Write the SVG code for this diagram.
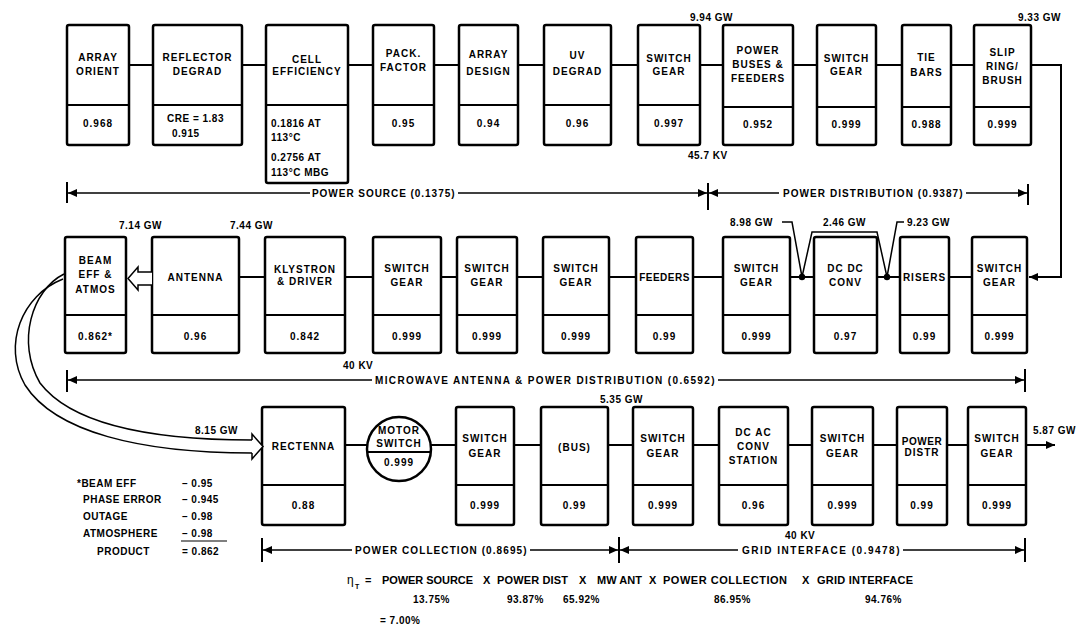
<svg xmlns="http://www.w3.org/2000/svg" width="1083" height="631" viewBox="0 0 1083 631">
<defs>
<style>
.b{fill:#fff;stroke:#000;stroke-width:2.5}
.d{fill:none;stroke:#000;stroke-width:2}
.t{font-family:"Liberation Sans",Arial,sans-serif;font-weight:bold;font-size:10px;letter-spacing:1px;fill:#000;text-anchor:middle}
.s{font-family:"Liberation Sans",Arial,sans-serif;font-weight:bold;font-size:10px;letter-spacing:0.5px;fill:#000;text-anchor:start}
.f{font-family:"Liberation Sans",Arial,sans-serif;font-weight:bold;font-size:11px;fill:#000;text-anchor:start}
.c{fill:none;stroke:#000;stroke-width:2}
.dim{fill:none;stroke:#000;stroke-width:1.5}
.tk{fill:none;stroke:#000;stroke-width:2}
.h{fill:#fff;stroke:#000;stroke-width:1.5}
.beam{fill:none;stroke:#000;stroke-width:1.5}
</style>
<marker id="ah" markerUnits="userSpaceOnUse" markerWidth="9" markerHeight="8" viewBox="0 0 9 8" refX="9" refY="4" orient="auto"><path d="M0,0 L9,4 L0,8 z" fill="#000"/></marker>
</defs>
<rect width="1083" height="631" fill="#fff"/>

<!-- Row 1 -->
<g id="n-array-orient">
<rect class="b" x="67" y="25" width="62" height="120" rx="2"/>
<line class="d" x1="67" y1="105" x2="129" y2="105"/>
<text class="t" x="98" y="61">ARRAY</text><text class="t" x="98" y="75">ORIENT</text>
<text class="t" x="98" y="127">0.968</text>
</g>
<g id="n-reflector">
<rect class="b" x="153" y="25" width="89" height="120" rx="2"/>
<line class="d" x1="153" y1="105" x2="242" y2="105"/>
<text class="t" x="197.5" y="61">REFLECTOR</text><text class="t" x="197.5" y="75">DEGRAD</text>
<text class="s" x="167" y="122">CRE = 1.83</text><text class="s" x="172" y="137">0.915</text>
</g>
<g id="n-cell">
<rect class="b" x="266" y="25" width="82" height="158" rx="2"/>
<line class="d" x1="266" y1="105" x2="348" y2="105"/>
<text class="t" x="307" y="63">CELL</text><text class="t" x="307" y="75">EFFICIENCY</text>
<text class="s" x="271" y="127">0.1816 AT</text><text class="s" x="271" y="141">113°C</text>
<text class="s" x="271" y="161">0.2756 AT</text><text class="s" x="271" y="176">113°C MBG</text>
</g>
<g id="n-pack">
<rect class="b" x="373" y="25" width="61" height="120" rx="2"/>
<line class="d" x1="373" y1="105" x2="434" y2="105"/>
<text class="t" x="403.5" y="57">PACK.</text><text class="t" x="403.5" y="71">FACTOR</text>
<text class="t" x="403.5" y="127">0.95</text>
</g>
<g id="n-array-design">
<rect class="b" x="459" y="25" width="59" height="120" rx="2"/>
<line class="d" x1="459" y1="105" x2="518" y2="105"/>
<text class="t" x="488.5" y="58">ARRAY</text><text class="t" x="488.5" y="75">DESIGN</text>
<text class="t" x="488.5" y="127">0.94</text>
</g>
<g id="n-uv">
<rect class="b" x="544" y="25" width="67" height="120" rx="2"/>
<line class="d" x1="544" y1="105" x2="611" y2="105"/>
<text class="t" x="577.5" y="59">UV</text><text class="t" x="577.5" y="75">DEGRAD</text>
<text class="t" x="577.5" y="127">0.96</text>
</g>
<g id="n-sw1">
<rect class="b" x="638" y="25" width="62" height="120" rx="2"/>
<line class="d" x1="638" y1="105" x2="700" y2="105"/>
<text class="t" x="669" y="62">SWITCH</text><text class="t" x="669" y="75">GEAR</text>
<text class="t" x="669" y="127">0.997</text>
</g>
<g id="n-buses">
<rect class="b" x="723" y="25" width="70" height="120" rx="2"/>
<line class="d" x1="723" y1="107" x2="793" y2="107"/>
<text class="t" x="758" y="54">POWER</text><text class="t" x="758" y="68">BUSES &amp;</text><text class="t" x="758" y="82">FEEDERS</text>
<text class="t" x="758" y="128">0.952</text>
</g>
<g id="n-sw2">
<rect class="b" x="817" y="25" width="59" height="120" rx="2"/>
<line class="d" x1="817" y1="107" x2="876" y2="107"/>
<text class="t" x="846.5" y="62">SWITCH</text><text class="t" x="846.5" y="75">GEAR</text>
<text class="t" x="846.5" y="128">0.999</text>
</g>
<g id="n-tie">
<rect class="b" x="902" y="25" width="49" height="120" rx="2"/>
<line class="d" x1="902" y1="107" x2="951" y2="107"/>
<text class="t" x="926.5" y="61">TIE</text><text class="t" x="926.5" y="76">BARS</text>
<text class="t" x="926.5" y="128">0.988</text>
</g>
<g id="n-slip">
<rect class="b" x="974" y="25" width="57" height="120" rx="2"/>
<line class="d" x1="974" y1="107" x2="1031" y2="107"/>
<text class="t" x="1002.5" y="56">SLIP</text><text class="t" x="1002.5" y="70">RING/</text><text class="t" x="1002.5" y="84">BRUSH</text>
<text class="t" x="1002.5" y="128">0.999</text>
</g>

<!-- Row 2 -->
<g id="n-beam">
<rect class="b" x="65" y="237" width="61" height="116" rx="2"/>
<line class="d" x1="65" y1="315" x2="126" y2="315"/>
<text class="t" x="95.5" y="264">BEAM</text><text class="t" x="95.5" y="278">EFF &amp;</text><text class="t" x="95.5" y="293">ATMOS</text>
<text class="t" x="95.5" y="340">0.862*</text>
</g>
<g id="n-antenna">
<rect class="b" x="152" y="237" width="87" height="116" rx="2"/>
<line class="d" x1="152" y1="315" x2="239" y2="315"/>
<text class="t" x="195.5" y="281">ANTENNA</text>
<text class="t" x="195.5" y="340">0.96</text>
</g>
<g id="n-klystron">
<rect class="b" x="265" y="237" width="80" height="116" rx="2"/>
<line class="d" x1="265" y1="315" x2="345" y2="315"/>
<text class="t" x="305" y="273">KLYSTRON</text><text class="t" x="305" y="285">&amp; DRIVER</text>
<text class="t" x="305" y="340">0.842</text>
</g>
<g id="n-sw3">
<rect class="b" x="373" y="237" width="68" height="116" rx="2"/>
<line class="d" x1="373" y1="315" x2="441" y2="315"/>
<text class="t" x="407" y="272">SWITCH</text><text class="t" x="407" y="286">GEAR</text>
<text class="t" x="407" y="340">0.999</text>
</g>
<g id="n-sw4">
<rect class="b" x="457" y="237" width="60" height="116" rx="2"/>
<line class="d" x1="457" y1="315" x2="517" y2="315"/>
<text class="t" x="487" y="272">SWITCH</text><text class="t" x="487" y="286">GEAR</text>
<text class="t" x="487" y="340">0.999</text>
</g>
<g id="n-sw5">
<rect class="b" x="543" y="237" width="66" height="116" rx="2"/>
<line class="d" x1="543" y1="315" x2="609" y2="315"/>
<text class="t" x="576" y="272">SWITCH</text><text class="t" x="576" y="286">GEAR</text>
<text class="t" x="576" y="340">0.999</text>
</g>
<g id="n-feeders">
<rect class="b" x="636" y="237" width="57" height="116" rx="2"/>
<line class="d" x1="636" y1="315" x2="693" y2="315"/>
<text class="t" x="664.5" y="281" style="letter-spacing:0.5px">FEEDERS</text>
<text class="t" x="664.5" y="340">0.99</text>
</g>
<g id="n-sw6">
<rect class="b" x="723" y="237" width="67" height="116" rx="2"/>
<line class="d" x1="723" y1="315" x2="790" y2="315"/>
<text class="t" x="756.5" y="272">SWITCH</text><text class="t" x="756.5" y="286">GEAR</text>
<text class="t" x="756.5" y="340">0.999</text>
</g>
<g id="n-dcdc">
<rect class="b" x="814" y="237" width="63" height="116" rx="2"/>
<line class="d" x1="814" y1="315" x2="877" y2="315"/>
<text class="t" x="845.5" y="272">DC DC</text><text class="t" x="845.5" y="286">CONV</text>
<text class="t" x="845.5" y="340">0.97</text>
</g>
<g id="n-risers">
<rect class="b" x="900" y="237" width="49" height="116" rx="2"/>
<line class="d" x1="900" y1="315" x2="949" y2="315"/>
<text class="t" x="924.5" y="281">RISERS</text>
<text class="t" x="924.5" y="340">0.99</text>
</g>
<g id="n-sw7">
<rect class="b" x="972" y="237" width="55" height="116" rx="2"/>
<line class="d" x1="972" y1="315" x2="1027" y2="315"/>
<text class="t" x="999.5" y="272">SWITCH</text><text class="t" x="999.5" y="286">GEAR</text>
<text class="t" x="999.5" y="340">0.999</text>
</g>

<!-- Row 3 -->
<g id="n-rectenna">
<rect class="b" x="262" y="407" width="83" height="118" rx="2"/>
<line class="d" x1="262" y1="485" x2="345" y2="485"/>
<text class="t" x="303.5" y="450">RECTENNA</text>
<text class="t" x="303.5" y="509">0.88</text>
</g>
<g id="n-motor">
<circle class="b" cx="399" cy="449" r="32"/>
<line class="d" x1="367.2" y1="452" x2="430.8" y2="452"/>
<text class="t" x="399" y="434">MOTOR</text><text class="t" x="399" y="447">SWITCH</text>
<text class="t" x="399" y="466">0.999</text>
</g>
<g id="n-sw8">
<rect class="b" x="456" y="407" width="58" height="118" rx="2"/>
<line class="d" x1="456" y1="485" x2="514" y2="485"/>
<text class="t" x="485" y="442">SWITCH</text><text class="t" x="485" y="457">GEAR</text>
<text class="t" x="485" y="509">0.999</text>
</g>
<g id="n-bus">
<rect class="b" x="541" y="407" width="67" height="118" rx="2"/>
<line class="d" x1="541" y1="485" x2="608" y2="485"/>
<text class="t" x="574.5" y="451">(BUS)</text>
<text class="t" x="574.5" y="509">0.99</text>
</g>
<g id="n-sw9">
<rect class="b" x="633" y="407" width="60" height="118" rx="2"/>
<line class="d" x1="633" y1="485" x2="693" y2="485"/>
<text class="t" x="663" y="442">SWITCH</text><text class="t" x="663" y="457">GEAR</text>
<text class="t" x="663" y="509">0.999</text>
</g>
<g id="n-dcac">
<rect class="b" x="719" y="407" width="69" height="118" rx="2"/>
<line class="d" x1="719" y1="485" x2="788" y2="485"/>
<text class="t" x="753.5" y="436">DC AC</text><text class="t" x="753.5" y="450">CONV</text><text class="t" x="753.5" y="464">STATION</text>
<text class="t" x="753.5" y="509">0.96</text>
</g>
<g id="n-sw10">
<rect class="b" x="812" y="407" width="61" height="118" rx="2"/>
<line class="d" x1="812" y1="485" x2="873" y2="485"/>
<text class="t" x="842.5" y="442">SWITCH</text><text class="t" x="842.5" y="457">GEAR</text>
<text class="t" x="842.5" y="509">0.999</text>
</g>
<g id="n-pdistr">
<rect class="b" x="897" y="407" width="50" height="118" rx="2"/>
<line class="d" x1="897" y1="485" x2="947" y2="485"/>
<text class="t" x="922" y="445" style="letter-spacing:0.5px">POWER</text><text class="t" x="922" y="456">DISTR</text>
<text class="t" x="922" y="509">0.99</text>
</g>
<g id="n-sw11">
<rect class="b" x="968" y="407" width="58" height="118" rx="2"/>
<line class="d" x1="968" y1="485" x2="1026" y2="485"/>
<text class="t" x="997" y="442">SWITCH</text><text class="t" x="997" y="457">GEAR</text>
<text class="t" x="997" y="509">0.999</text>
</g>

<!-- Connectors -->
<g id="connectors">
<path class="c" d="M129 65H153M242 65H266M348 65H373M434 65H459M518 65H544M611 65H638M700 65H723M793 65H817M876 65H902M951 65H974"/>
<path class="c" d="M1031 65H1061V277H1029" marker-end="url(#ah)"/>
<path class="h" d="M152 272H138V267L128 278.5L138 290V285H152"/>
<path class="c" d="M239 277H265M345 277H373M441 277H457M517 277H543M609 277H636M693 277H723M790 277H814M877 277H900M949 277H972"/>
<circle cx="802" cy="277" r="3.2"/>
<circle cx="887" cy="277" r="3.2"/>
<path class="dim" d="M782 222H792L802 277M802 277L812 232H877L887 277M887 277L897 222H904"/>
<path class="c" d="M345 445H367M431 445H456M514 445H541M608 445H633M693 445H719M788 445H812M873 445H897M947 445H968"/>
<path class="c" d="M1026 445H1055" marker-end="url(#ah)"/>
<path class="beam" d="M63 279C22 295 2 345 25 385C55 432 140 453 252 453"/>
<path class="beam" d="M64 274C32 290 16 342 40 383C72 425 150 440 252 440"/>
<path class="h" d="M252 440V434L263 446.5L252 459V453"/>
<!-- dimension lines -->
<path class="tk" d="M67 182V203M708 183V210M1028 184V205"/>
<line class="dim" x1="310" y1="193" x2="68" y2="193" marker-end="url(#ah)"/>
<line class="dim" x1="458" y1="193" x2="707" y2="193" marker-end="url(#ah)"/>
<line class="dim" x1="779" y1="193" x2="709" y2="193" marker-end="url(#ah)"/>
<line class="dim" x1="966" y1="193" x2="1027" y2="193" marker-end="url(#ah)"/>
<path class="tk" d="M67 370V392M1025 369V392"/>
<line class="dim" x1="372" y1="380" x2="68" y2="380" marker-end="url(#ah)"/>
<line class="dim" x1="718" y1="380" x2="1024" y2="380" marker-end="url(#ah)"/>
<path class="tk" d="M262 538V562M619 537V563M1025 538V562"/>
<line class="dim" x1="352" y1="550" x2="263" y2="550" marker-end="url(#ah)"/>
<line class="dim" x1="530" y1="550" x2="618" y2="550" marker-end="url(#ah)"/>
<line class="dim" x1="738" y1="550" x2="620" y2="550" marker-end="url(#ah)"/>
<line class="dim" x1="903" y1="550" x2="1024" y2="550" marker-end="url(#ah)"/>
</g>

<!-- Labels -->
<g id="labels">
<text class="s" x="690" y="21">9.94 GW</text>
<text class="s" x="1018" y="21">9.33 GW</text>
<text class="s" x="688" y="159">45.7 KV</text>
<text class="s" x="312" y="197" textLength="143">POWER SOURCE (0.1375)</text>
<text class="s" x="783" y="197" textLength="180">POWER DISTRIBUTION (0.9387)</text>
<text class="s" x="119" y="229">7.14 GW</text>
<text class="s" x="230" y="229">7.44 GW</text>
<text class="s" x="730" y="226">8.98 GW</text>
<text class="s" x="823" y="226">2.46 GW</text>
<text class="s" x="907" y="226">9.23 GW</text>
<text class="s" x="343" y="369">40 KV</text>
<text class="s" x="375" y="384" textLength="340">MICROWAVE ANTENNA &amp; POWER DISTRIBUTION (0.6592)</text>
<text class="s" x="600" y="403">5.35 GW</text>
<text class="s" x="195" y="434">8.15 GW</text>
<text class="s" x="1033" y="434">5.87 GW</text>
<text class="s" x="785" y="539">40 KV</text>
<text class="s" x="355" y="554" textLength="172">POWER COLLECTION (0.8695)</text>
<text class="s" x="742" y="554" textLength="158">GRID INTERFACE (0.9478)</text>
<text class="s" x="77" y="487">*BEAM EFF</text>
<text class="s" x="83" y="503">PHASE ERROR</text>
<text class="s" x="83" y="520">OUTAGE</text>
<text class="s" x="83" y="537">ATMOSPHERE</text>
<text class="s" x="97" y="555">PRODUCT</text>
<text class="s" x="182" y="487">– 0.95</text>
<text class="s" x="182" y="503">– 0.945</text>
<text class="s" x="182" y="520">– 0.98</text>
<text class="s" x="182" y="537">– 0.98</text>
<line x1="181" y1="541" x2="227" y2="541" stroke="#000" stroke-width="1.2"/>
<text class="s" x="182" y="555">= 0.862</text>
<text class="f" x="347" y="584" style="font-size:12px;font-weight:normal">η</text>
<text class="f" x="355" y="589" style="font-size:7px">T</text>
<text class="f" x="365" y="584">=</text>
<text class="f" x="382" y="584" textLength="91">POWER SOURCE</text>
<text class="f" x="483" y="584">X</text>
<text class="f" x="497" y="584" textLength="71">POWER DIST</text>
<text class="f" x="579" y="584">X</text>
<text class="f" x="597" y="584" textLength="45">MW ANT</text>
<text class="f" x="649" y="584">X</text>
<text class="f" x="663" y="584" textLength="124">POWER COLLECTION</text>
<text class="f" x="802" y="584">X</text>
<text class="f" x="817" y="584" textLength="96">GRID INTERFACE</text>
<text class="s" x="413" y="603">13.75%</text>
<text class="s" x="507" y="603">93.87%</text>
<text class="s" x="563" y="603">65.92%</text>
<text class="s" x="714" y="603">86.95%</text>
<text class="s" x="865" y="603">94.76%</text>
<text class="s" x="380" y="624">= 7.00%</text>
</g>
</svg>
